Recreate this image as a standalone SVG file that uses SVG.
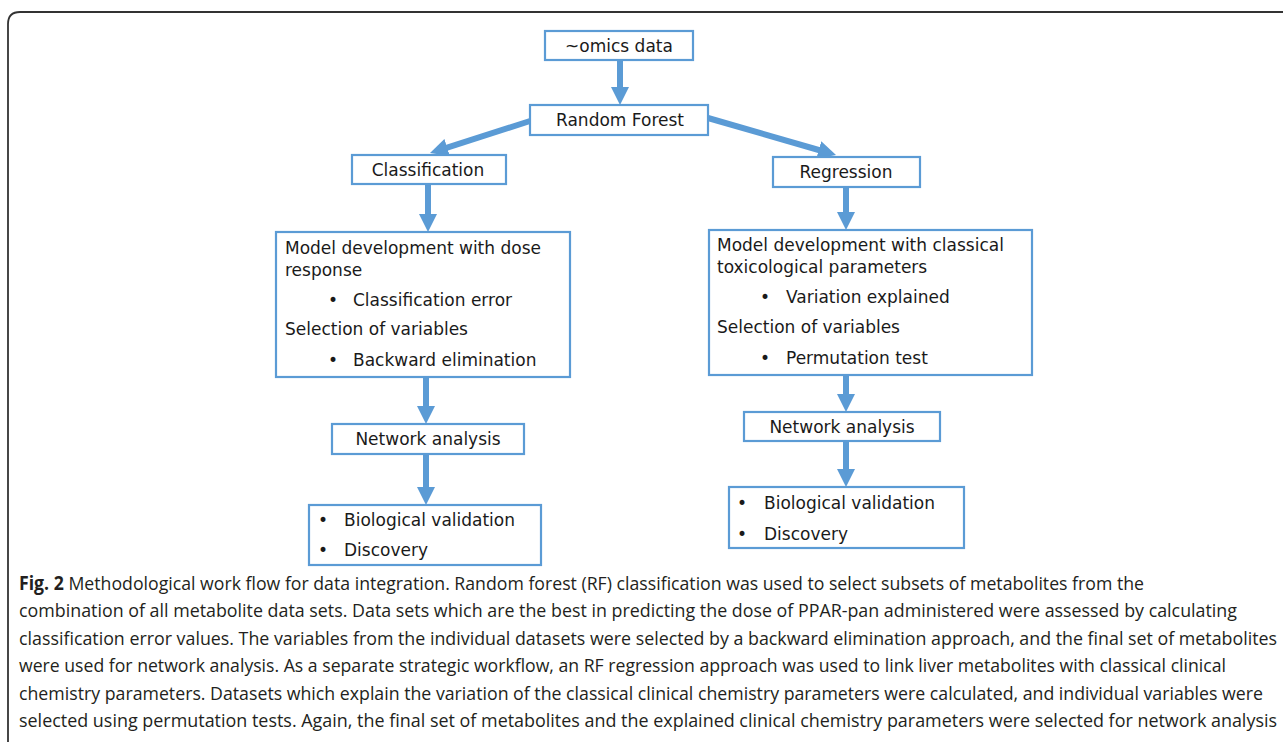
<svg xmlns="http://www.w3.org/2000/svg" width="1283" height="742" viewBox="0 0 1283 742">
<style>
.box{fill:#fff;stroke:#5b9bd5;stroke-width:2.2}
.t{font-family:"DejaVu Sans",Verdana,sans-serif;font-size:17px;fill:#1a1a1a}
.c{text-anchor:middle}
.arr{stroke:#5b9bd5;stroke-width:6;fill:none;marker-end:url(#ah)}
.cap{font-family:"Open Sans","Liberation Sans",sans-serif;font-size:19px;fill:#231f20}
</style>
<defs>
<marker id="ah" markerUnits="userSpaceOnUse" markerWidth="18" markerHeight="18" viewBox="0 0 18 18" refX="9" refY="9" orient="auto">
<path d="M0,0 L18,9 L0,18 z" fill="#5b9bd5"/>
</marker>
</defs>
<rect width="1283" height="742" fill="#fff"/>
<path d="M1290,12 H20 Q8,12 8,24 V750" fill="none" stroke="#333" stroke-width="1.8"/>
<g id="connectors">
<line class="arr" x1="620" y1="60" x2="620" y2="96"/>
<line class="arr" x1="530" y1="121" x2="438.6" y2="150.3"/>
<line class="arr" x1="708" y1="118" x2="827.4" y2="152.5"/>
<line class="arr" x1="428" y1="184" x2="428" y2="223"/>
<line class="arr" x1="846" y1="187" x2="846" y2="221"/>
<line class="arr" x1="426" y1="377" x2="426" y2="415"/>
<line class="arr" x1="426" y1="454" x2="426" y2="496"/>
<line class="arr" x1="846" y1="375" x2="846" y2="403"/>
<line class="arr" x1="846" y1="441" x2="846" y2="478"/>
</g>
<g id="omics"><rect class="box" x="545" y="31" width="148" height="29"/><text class="t c" x="619" y="52">~omics data</text></g>
<g id="rf"><rect class="box" x="530" y="105" width="178" height="30"/><text class="t c" x="620" y="126">Random Forest</text></g>
<g id="classification"><rect class="box" x="352" y="155" width="154" height="29"/><text class="t c" x="428" y="176">Classification</text></g>
<g id="regression"><rect class="box" x="773" y="157" width="147" height="30"/><text class="t c" x="846" y="178">Regression</text></g>
<g id="model-left"><rect class="box" x="276" y="232" width="294" height="145"/>
<text class="t" x="285" y="254">Model development with dose</text>
<text class="t" x="285" y="276">response</text>
<text class="t" x="328" y="306">•</text><text class="t" x="353" y="306">Classification error</text>
<text class="t" x="285" y="335">Selection of variables</text>
<text class="t" x="328" y="366">•</text><text class="t" x="353" y="366">Backward elimination</text>
</g>
<g id="model-right"><rect class="box" x="709" y="230" width="323" height="145"/>
<text class="t" x="717" y="251">Model development with classical</text>
<text class="t" x="717" y="273">toxicological parameters</text>
<text class="t" x="760" y="303">•</text><text class="t" x="786" y="303">Variation explained</text>
<text class="t" x="717" y="333">Selection of variables</text>
<text class="t" x="760" y="364">•</text><text class="t" x="786" y="364">Permutation test</text>
</g>
<g id="network-left"><rect class="box" x="332" y="424" width="192" height="30"/><text class="t c" x="428" y="445">Network analysis</text></g>
<g id="network-right"><rect class="box" x="744" y="412" width="196" height="29"/><text class="t c" x="842" y="433">Network analysis</text></g>
<g id="bio-left"><rect class="box" x="309" y="505" width="232" height="60"/>
<text class="t" x="318" y="526">•</text><text class="t" x="344" y="526">Biological validation</text>
<text class="t" x="318" y="556">•</text><text class="t" x="344" y="556">Discovery</text>
</g>
<g id="bio-right"><rect class="box" x="729" y="487" width="235" height="61"/>
<text class="t" x="737" y="509">•</text><text class="t" x="764" y="509">Biological validation</text>
<text class="t" x="737" y="540">•</text><text class="t" x="764" y="540">Discovery</text>
</g>
<g id="caption">
<text class="cap" x="19" y="590" textLength="1125" lengthAdjust="spacingAndGlyphs"><tspan font-weight="bold">Fig. 2</tspan> Methodological work flow for data integration. Random forest (RF) classification was used to select subsets of metabolites from the</text>
<text class="cap" x="19" y="617" textLength="1218" lengthAdjust="spacingAndGlyphs">combination of all metabolite data sets. Data sets which are the best in predicting the dose of PPAR-pan administered were assessed by calculating</text>
<text class="cap" x="19" y="645" textLength="1258" lengthAdjust="spacingAndGlyphs">classification error values. The variables from the individual datasets were selected by a backward elimination approach, and the final set of metabolites</text>
<text class="cap" x="19" y="672" textLength="1207" lengthAdjust="spacingAndGlyphs">were used for network analysis. As a separate strategic workflow, an RF regression approach was used to link liver metabolites with classical clinical</text>
<text class="cap" x="19" y="700" textLength="1244" lengthAdjust="spacingAndGlyphs">chemistry parameters. Datasets which explain the variation of the classical clinical chemistry parameters were calculated, and individual variables were</text>
<text class="cap" x="19" y="727" textLength="1258" lengthAdjust="spacingAndGlyphs">selected using permutation tests. Again, the final set of metabolites and the explained clinical chemistry parameters were selected for network analysis</text>
</g>
</svg>
